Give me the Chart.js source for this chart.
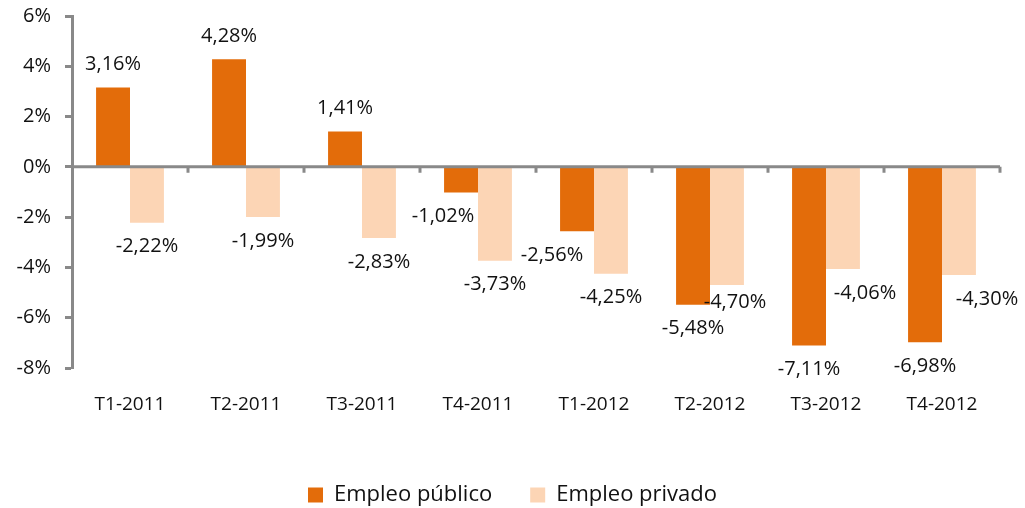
<!DOCTYPE html>
<html>
<head>
<meta charset="utf-8">
<script src="https://cdn.jsdelivr.net/npm/chart.js@4.4.0/dist/chart.umd.min.js"></script>
<style>
  html, body { margin: 0; padding: 0; background: #fff; }
  #wrap { width: 1025px; height: 508px; }
</style>
</head>
<body>
<div id="wrap"><canvas id="chart" width="1025" height="508"></canvas></div>
<script>
// Data
const categories = ['T1-2011', 'T2-2011', 'T3-2011', 'T4-2011', 'T1-2012', 'T2-2012', 'T3-2012', 'T4-2012'];
const publico = [3.16, 4.28, 1.41, -1.02, -2.56, -5.48, -7.11, -6.98];
const privado = [-2.22, -1.99, -2.83, -3.73, -4.25, -4.70, -4.06, -4.30];
const seriesNames = ['Empleo público', 'Empleo privado'];

const ORANGE = '#E36C0A';
const PEACH = '#FCD5B5';
const AXIS = '#898989';
const FONT = '"Open Sans", Lato, sans-serif';

// label nudges (px) so the labels sit where the original puts them
const labelShift = {
    0: { dx: [0, 0, 0, -18, -25, 0, 0, 0], dy: [0, 0, 0, 0, 0, 0, 0, 0] },
    1: { dx: [0, 0, 0, 0, 0, 8, 22, 28], dy: [0, 0, 0, 0, 0, -7, 0, 0] }
};

const fmt = v => v.toFixed(2).replace('.', ',') + '%';

// zero line with category tick marks, as in the original
const zeroAxis = {
    id: 'zeroAxis',
    afterDatasetsDraw(chart) {
        const { ctx } = chart;
        const x = chart.scales.x, y = chart.scales.y;
        const y0 = y.getPixelForValue(0);
        ctx.save();
        ctx.strokeStyle = AXIS;
        ctx.lineWidth = 3;
        ctx.beginPath();
        ctx.moveTo(x.left, y0);
        ctx.lineTo(x.right, y0);
        const step = x.width / categories.length;
        for (let i = 1; i <= categories.length; i++) {
            const px = x.left + i * step;
            ctx.moveTo(px, y0);
            ctx.lineTo(px, y0 + 6);
        }
        ctx.stroke();
        ctx.restore();
    }
};

const valueLabels = {
    id: 'valueLabels',
    afterDatasetsDraw(chart) {
        const { ctx } = chart;
        ctx.save();
        ctx.font = '20px ' + FONT;
        ctx.fillStyle = '#111';
        ctx.textAlign = 'center';
        ctx.textBaseline = 'middle';
        chart.data.datasets.forEach((ds, di) => {
            const meta = chart.getDatasetMeta(di);
            meta.data.forEach((el, i) => {
                const v = ds.data[i];
                const off = v >= 0 ? -23 : 24;
                ctx.fillText(fmt(v), el.x + labelShift[di].dx[i], el.y + off + labelShift[di].dy[i]);
            });
        });
        ctx.restore();
    }
};

new Chart(document.getElementById('chart'), {
    type: 'bar',
    data: {
        labels: categories,
        datasets: [
            { label: seriesNames[0], data: publico, backgroundColor: ORANGE },
            { label: seriesNames[1], data: privado, backgroundColor: PEACH }
        ]
    },
    options: {
        responsive: false,
        animation: false,
        devicePixelRatio: 1,
        layout: { padding: { left: 0, right: 0, top: 16, bottom: -8 } },
        datasets: {
            bar: { categoryPercentage: 0.585, barPercentage: 1.0 }
        },
        plugins: {
            legend: {
                position: 'bottom',
                labels: {
                    font: { family: FONT, size: 22 },
                    color: '#111',
                    boxWidth: 15,
                    boxHeight: 15,
                    padding: 38
                }
            },
            tooltip: { enabled: false }
        },
        scales: {
            x: {
                grid: { display: false, drawTicks: false },
                border: { display: false },
                ticks: { font: { family: FONT, size: 19 }, color: '#111', padding: 25 },
                afterFit(scale) {
                    scale.height = 78;
                    scale.paddingRight = 25;
                }
            },
            y: {
                min: -8,
                max: 6,
                ticks: {
                    stepSize: 2,
                    font: { family: FONT, size: 20 },
                    color: '#111',
                    padding: 14,
                    callback: v => v + '%'
                },
                grid: {
                    drawOnChartArea: false,
                    tickLength: 7,
                    tickColor: AXIS,
                    tickWidth: 3
                },
                border: { display: true, color: AXIS, width: 3 },
                afterFit(scale) {
                    scale.width = 72;
                    scale.paddingTop = 0;
                    scale.paddingBottom = 0;
                }
            }
        }
    },
    plugins: [zeroAxis, valueLabels]
});
</script>
</body>
</html>
